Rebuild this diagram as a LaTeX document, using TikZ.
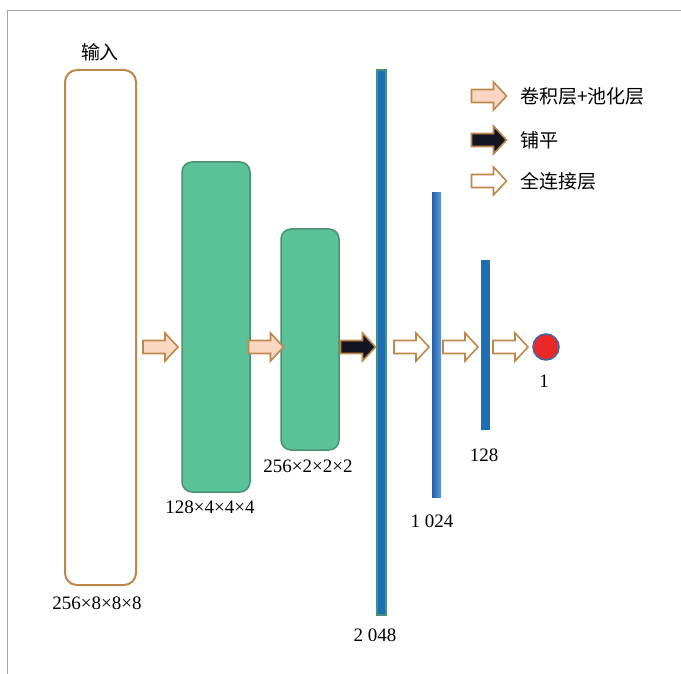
\documentclass[tikz,border=0pt]{standalone}
\usepackage{fontspec}
\setmainfont{Liberation Serif}
\newfontfamily\cjk{Noto Sans CJK SC}
\definecolor{brownline}{RGB}{190,135,75}
\definecolor{peach}{RGB}{250,215,195}
\definecolor{greenfill}{RGB}{90,193,152}
\definecolor{greenline}{RGB}{75,145,115}
\definecolor{barblue}{RGB}{30,110,180}
\definecolor{darkarrow}{RGB}{20,20,35}
\definecolor{dotred}{RGB}{235,40,40}
\definecolor{dotline}{RGB}{60,100,170}
\definecolor{framegray}{RGB}{165,165,165}
% block arrow: name, x, y, style
\newcommand\blkarrow[4]{%
  \coordinate (#1) at (#2,#3);
  \draw[blk,#4] ([shift={(-17.5,-6.5)}]#1) -- ++(22,0) -- ++(0,-7.5) -- ++(13,14) -- ++(-13,14) -- ++(0,-7.5) -- ++(-22,0) -- cycle;}
\begin{document}
\begin{tikzpicture}[x=1pt,y=-1pt,
  lbl/.style={font=\fontsize{19}{22}\selectfont, inner sep=0pt},
  inbox/.style={draw=brownline, line width=2pt, fill=white, rounded corners=12pt, inner sep=0pt},
  greenbox/.style={draw=greenline, line width=1.5pt, fill=greenfill, rounded corners=10pt, inner sep=0pt},
  bar/.style={fill=barblue, inner sep=0pt, minimum width=9pt},
  blk/.style={draw=brownline, line width=1.6pt, line join=miter},
  convarrow/.style={fill=peach},
  flatarrow/.style={fill=darkarrow},
  fcarrow/.style={fill=white}]
\useasboundingbox (0,0) rectangle (681,674);
% frame
\draw[framegray, line width=1.5pt] (7.5,674) -- (7.5,10.5) -- (681,10.5);
% input
\node[inbox, minimum width=71pt, minimum height=515pt] (in) at (100.5,327.5) {};
\node[lbl] (inlab) at (100,52) {\cjk 输入};
\node[lbl] (inlab2) at (97,603) {256×8×8×8};
% green boxes
\node[greenbox, minimum width=68pt, minimum height=330pt] (g1) at (216,327) {};
\node[lbl] (g1lab) at (210,507) {128×4×4×4};
\node[greenbox, minimum width=58pt, minimum height=221pt] (g2) at (310,339.5) {};
\node[lbl] (g2lab) at (308,466) {256×2×2×2};
% bars
\node[bar, draw=greenline, line width=1.5pt, minimum height=545pt] (b1) at (381.5,342.5) {};
\node[lbl] (b1lab) at (375,635) {2 048};
\node[inner sep=0pt, minimum width=9pt, minimum height=304pt, left color={rgb,255:red,35;green,95;blue,165}, right color={rgb,255:red,95;green,155;blue,225}] (b2) at (436.5,345) {};
\node[lbl] (b2lab) at (432,521) {1 024};
\node[bar, minimum height=170pt] (b3) at (485.5,345) {};
\node[lbl] (b3lab) at (484,455) {128};
% output
\node[circle, fill=dotred, draw=dotline, line width=1.5pt, minimum size=26pt, inner sep=0pt] (out) at (546,347) {};
\node[lbl] (outlab) at (544,381) {1};
% block arrows
\blkarrow{a1}{160.5}{347}{convarrow}
\blkarrow{a2}{266}{347}{convarrow}
\blkarrow{a3}{358}{347}{flatarrow}
\blkarrow{a4}{411.5}{347}{fcarrow}
\blkarrow{a5}{460.5}{347}{fcarrow}
\blkarrow{a6}{510.5}{347}{fcarrow}
% legend
\blkarrow{l1}{489}{96}{convarrow}
\node[lbl, anchor=west] (l1t) at (520,96) {\cjk 卷积层+池化层};
\blkarrow{l2}{489}{140}{flatarrow}
\node[lbl, anchor=west] (l2t) at (520,140) {\cjk 铺平};
\blkarrow{l3}{489}{181}{fcarrow}
\node[lbl, anchor=west] (l3t) at (520,181) {\cjk 全连接层};
\end{tikzpicture}
\end{document}
